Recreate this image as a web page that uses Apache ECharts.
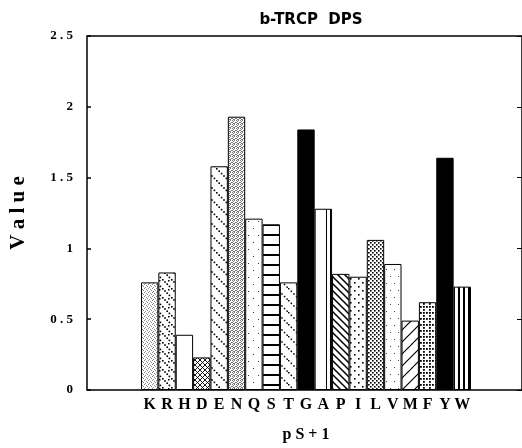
<!DOCTYPE html>
<html>
<head>
<meta charset="utf-8">
<script src="https://cdn.jsdelivr.net/npm/echarts@6/dist/echarts.min.js"></script>
<style>
  html, body { margin: 0; padding: 0; background: #fff; }
  #chart { width: 522px; height: 448px; }
</style>
</head>
<body>
<div id="chart"></div>
<script>
// residue at pS+1 and its value
const categories = ['K', 'R', 'H', 'D', 'E', 'N', 'Q', 'S', 'T', 'G', 'A', 'P', 'I', 'L', 'V', 'M', 'F', 'Y', 'W']
const values = [0.76, 0.83, 0.39, 0.23, 1.58, 1.93, 1.21, 1.17, 0.76, 1.84, 1.28, 0.82, 0.80, 1.06, 0.89, 0.49, 0.62, 1.64, 0.73]
const yTicks = [0, 0.5, 1, 1.5, 2, 2.5]

// small canvas tiles for the hatch fills
function tile(w, h, draw) {
  const c = document.createElement('canvas')
  c.width = w
  c.height = h
  const g = c.getContext('2d')
  g.fillStyle = '#fff'
  g.fillRect(0, 0, w, h)
  g.fillStyle = '#000'
  g.strokeStyle = '#000'
  draw(g, w, h)
  return { image: c, repeat: 'repeat' }
}
function dots(list, size, color) {
  return (g) => {
    g.fillStyle = color || '#000'
    list.forEach(p => g.fillRect(p[0], p[1], size, size))
  }
}
function diagDots(s, step, size) {
  return (g) => {
    for (let i = 0; i < s; i += step) g.fillRect(i, i, size, size)
  }
}
function diagLine(s, lw, dir) {
  return (g) => {
    g.lineWidth = lw
    g.beginPath()
    if (dir > 0) {
      g.moveTo(-1, -1); g.lineTo(s + 1, s + 1)
      g.moveTo(-1, s - 1); g.lineTo(1, s + 1)
      g.moveTo(s - 1, -1); g.lineTo(s + 1, 1)
    } else {
      g.moveTo(-1, s + 1); g.lineTo(s + 1, -1)
      g.moveTo(-1, 1); g.lineTo(1, -1)
      g.moveTo(s - 1, s + 1); g.lineTo(s + 1, s - 1)
    }
    g.stroke()
  }
}

const fills = {
  K: tile(4, 4, dots([[0, 0], [2, 1], [1, 3], [3, 2]], 1, '#888')),
  R: tile(9, 9, (g) => { diagDots(9, 2.2, 1.6)(g); g.fillRect(6, 1, 1.5, 1.5) }),
  H: '#fff',
  D: tile(5, 5, (g) => { diagLine(5, 0.9, 1)(g); diagLine(5, 0.9, -1)(g) }),
  E: tile(12, 12, diagDots(12, 2.4, 1.6)),
  N: tile(4, 4, dots([[0, 0], [2, 0], [1, 1], [3, 2], [0, 2], [2, 3], [1, 3]], 1, '#777')),
  Q: tile(10, 14, dots([[3, 4], [8, 11]], 1, '#333')),
  S: tile(4, 10, (g) => g.fillRect(0, 4, 4, 2)),
  T: tile(12, 12, diagDots(12, 2.6, 1.5)),
  G: '#000',
  A: tile(18, 4, (g) => { g.fillRect(2, 0, 1, 4); g.fillRect(6, 0, 1, 4) }),
  P: tile(7, 7, diagLine(7, 1.5, 1)),
  I: tile(8, 8, dots([[2, 2], [6, 6]], 1.6)),
  L: tile(4, 4, dots([[0, 0], [2, 2]], 1.6)),
  V: tile(8, 14, dots([[2, 3], [6, 10]], 1, '#444')),
  M: tile(12, 12, diagLine(12, 1.2, -1)),
  F: tile(6, 6, dots([[0, 0], [3, 3], [3, 0]], 1.8)),
  Y: '#000',
  W: tile(5, 4, (g) => g.fillRect(3, 0, 2, 4))
}

const chart = echarts.init(document.getElementById('chart'))

const options = {
  animation: false,
  backgroundColor: '#fff',
  title: {
    text: 'b-TRCP  DPS',
    left: 306,
    top: 8,
    textAlign: 'center',
    textStyle: {
      fontFamily: 'DejaVu Sans',
      fontWeight: 'bold',
      fontSize: 15,
      color: '#000'
    }
  },
  grid: [
    // outer frame with the value axis
    { left: 86, right: -2, top: 36, bottom: 58, show: true, borderColor: '#000', borderWidth: 1.5 },
    // bars
    { left: 141, width: 330, top: 36, bottom: 58 }
  ],
  xAxis: [
    { gridIndex: 0, type: 'value', min: 0, max: 1, show: false },
    {
      gridIndex: 1,
      type: 'category',
      data: categories,
      axisLine: { show: false },
      axisTick: { show: false },
      axisLabel: {
        margin: 7,
        color: '#000',
        fontFamily: 'Liberation Serif',
        fontWeight: 'bold',
        fontSize: 16,
        interval: 0
      },
      name: 'p S + 1',
      nameLocation: 'middle',
      nameGap: 37,
      nameTextStyle: {
        color: '#000',
        fontFamily: 'Liberation Serif',
        fontWeight: 'bold',
        fontSize: 16
      }
    }
  ],
  yAxis: [
    {
      gridIndex: 0,
      type: 'value',
      min: yTicks[0],
      max: yTicks[yTicks.length - 1],
      interval: 0.5,
      axisLine: { show: false },
      axisTick: { show: true, inside: true, length: 4, lineStyle: { color: '#000', width: 1.5 } },
      splitLine: { show: false },
      axisLabel: {
        margin: 14,
        color: '#000',
        fontFamily: 'Liberation Serif',
        fontWeight: 'bold',
        fontSize: 13,
        formatter: v => String(v).split('').join(' ')
      },
      name: 'V a l u e',
      nameLocation: 'middle',
      nameGap: 58,
      nameTextStyle: {
        color: '#000',
        fontFamily: 'Liberation Serif',
        fontWeight: 'bold',
        fontSize: 21
      }
    },
    {
      gridIndex: 1,
      type: 'value',
      min: yTicks[0],
      max: yTicks[yTicks.length - 1],
      show: false
    },
    {
      gridIndex: 0,
      type: 'value',
      position: 'right',
      min: yTicks[0],
      max: yTicks[yTicks.length - 1],
      interval: 0.5,
      axisLine: { show: false },
      axisTick: { show: true, inside: true, length: 5, lineStyle: { color: '#000' } },
      axisLabel: { show: false },
      splitLine: { show: false }
    }
  ],
  series: [{
    name: 'Value',
    type: 'bar',
    xAxisIndex: 1,
    yAxisIndex: 1,
    barCategoryGap: '0%',
    data: values.map((v, i) => ({
      value: v,
      itemStyle: { color: fills[categories[i]] }
    })),
    itemStyle: { borderColor: '#000', borderWidth: 1 }
  }]
}

chart.setOption(options)
</script>
</body>
</html>
